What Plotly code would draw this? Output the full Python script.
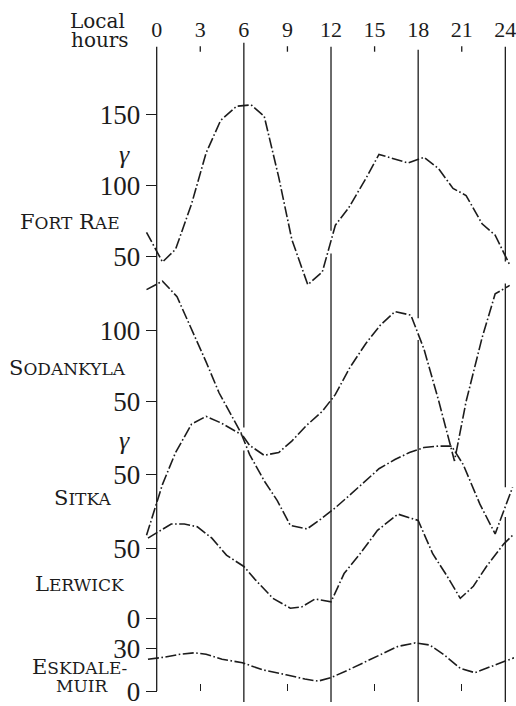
import plotly.graph_objects as go

# ---- data: hourly disturbance amplitude (gamma) against local time (hours) ----
hour_ticks = [0, 3, 6, 9, 12, 15, 18, 21, 24]
minor_hours = [3, 9, 15, 21]
guide_hours = [0, 6, 12, 18, 24]

fort_rae_hours = [-0.7, 0.4, 1.3, 2.4, 3.4, 4.4, 5.5, 6.5, 7.4, 8.4, 9.3, 10.4, 11.4,
                  12.3, 13.2, 14.4, 15.3, 16.4, 17.3, 18.4, 19.4, 20.4, 21.3, 22.4, 23.3, 24.3]
fort_rae_vals = [67, 46, 55, 87, 123, 146, 156, 157, 149, 106, 62, 30, 39,
                 72, 84, 105, 122, 119, 116, 120, 112, 98, 93, 73, 65, 44]

sodankyla_hours = [-0.7, 0.4, 1.4, 2.4, 3.4, 4.3, 5.85, 6.4, 7.4, 8.4, 9.3, 10.3, 11.4,
                   12.3, 13.3, 14.4, 15.4, 16.4, 17.5, 18.4, 19.4, 20.5, 21.3, 22.4, 23.3, 24.3]
sodankyla_vals = [129, 135, 124, 101, 78, 56, 27, 19, 12, 14, 22, 33, 43,
                  55, 74, 91, 104, 113.5, 111, 87, 51, 8, 50, 95, 126, 132]

sitka_hours = [-0.7, 0.4, 1.3, 2.4, 3.4, 4.4, 5.85, 6.4, 7.4, 8.3, 9.2, 10.35, 11.3,
               12.3, 13.3, 14.3, 15.3, 16.4, 17.4, 18.4, 19.4, 20.3, 21.1, 22.25, 23.3, 24.5]
sitka_vals = [7, 43, 65.5, 85.5, 91, 86.5, 78, 64, 45.5, 31.5, 14, 11.5, 18.5,
              26.5, 35.5, 45, 54, 60.5, 65.5, 69, 70, 70, 57, 29, 8, 41]

lerwick_hours = [-0.6, 1.0, 1.9, 2.8, 3.8, 4.8, 6.0, 6.8, 8.0, 9.2, 10.0, 10.9, 12.0,
                 12.9, 14.0, 15.2, 16.6, 18.0, 19.0, 20.0, 20.9, 21.8, 22.7, 23.9, 24.5]
lerwick_vals = [57, 67, 67, 65, 57, 45, 37, 27.5, 14.5, 7.5, 8.5, 14, 12,
                32, 46, 62.5, 74, 69.5, 46, 30, 14.5, 23, 37, 53, 59]

eskdalemuir_hours = [-0.6, 0.6, 1.6, 2.6, 3.4, 4.5, 5.9, 7.3, 8.9, 10.2, 11.1, 12.0,
                     13.1, 14.3, 15.5, 16.6, 17.8, 18.8, 19.8, 20.9, 21.9, 23.0, 23.9, 24.6]
eskdalemuir_vals = [22.5, 24, 26, 27, 26, 22.5, 20, 15, 11.5, 8.5, 7, 9.5,
                    14.5, 20.5, 26.5, 31.5, 34, 32.5, 25.5, 16, 13, 17.5, 21, 23.5]

# scale labels shown on the left axis for each station
fort_rae_ticks = [50, 100, 150]
sodankyla_ticks = [50, 100]
sitka_ticks = [50]
lerwick_ticks = [0, 50]
eskdalemuir_ticks = [0, 30]

# ---- layout geometry ----
W, H = 516, 706
X0_PX, PX_PER_HOUR = 157.3, 14.583      # hour 0 position, horizontal scale
Y0_PX, PX_PER_GAMMA = 695.0, 1.424      # lowest baseline position, vertical scale
INK = "#1c1c1c"
BIG, SMALL = 21, 17

x_range = [-X0_PX / PX_PER_HOUR, (W - X0_PX) / PX_PER_HOUR]
y_range = [-(H - Y0_PX) / PX_PER_GAMMA, Y0_PX / PX_PER_GAMMA]


def y_at(py):
    return (Y0_PX - py) / PX_PER_GAMMA


def sc(text):
    """Small caps: first letter of each word full size, the rest smaller."""
    words = []
    for w in text.split(" "):
        words.append(w[0] + f"<span style='font-size:{SMALL}px'>{w[1:]}</span>")
    return " ".join(words)


# station: (label, hours, values, ticks, baseline offset, label centre px)
stations = [
    ("FORT RAE", fort_rae_hours, fort_rae_vals, fort_rae_ticks, 257.0, (70, 223)),
    ("SODANKYLA", sodankyla_hours, sodankyla_vals, sodankyla_ticks, 154.5, (68, 370)),
    ("SITKA", sitka_hours, sitka_vals, sitka_ticks, 103.0, (83, 501)),
    ("LERWICK", lerwick_hours, lerwick_vals, lerwick_ticks, 51.0, (80, 587)),
    ("ESKDALE-", eskdalemuir_hours, eskdalemuir_vals, eskdalemuir_ticks, 0.0, (80, 671)),
]

fig = go.Figure()
tickvals, ticktext = [], []
for name, hrs, vals, ticks, off, _ in stations:
    fig.add_trace(go.Scatter(
        x=hrs, y=[v + off for v in vals], mode="lines", name=name,
        line=dict(color=INK, width=1.6, dash="11px,2.5px,1.6px,2.5px"),
        showlegend=False, hoverinfo="skip"))
    for t in ticks:
        tickvals.append(t + off)
        ticktext.append(str(t))

# carrier for the bottom tick-only hour axis
fig.add_trace(go.Scatter(x=[None], y=[None], xaxis="x2", yaxis="y",
                         showlegend=False, hoverinfo="skip"))

# vertical guide lines (interrupted where curves cross them)
guide_segments = {
    0: [(47, 695)],
    6: [(43, 430), (453, 706)],
    12: [(47, 232), (255, 706)],
    18: [(50, 320), (342, 706)],
    24: [(47, 263), (285, 490), (520, 706)],
}
shapes = []
for h in guide_hours:
    for top, bot in guide_segments[h]:
        shapes.append(dict(type="line", xref="x", yref="y", x0=h, x1=h,
                           y0=y_at(bot), y1=y_at(top),
                           line=dict(color=INK, width=1.3)))
# short marks under the intermediate hour labels
for h in minor_hours:
    shapes.append(dict(type="line", xref="x", yref="y", x0=h, x1=h,
                       y0=y_at(52), y1=y_at(46.5),
                       line=dict(color=INK, width=1.3)))


def note(text, cx, cy, family="DejaVu Serif", size=BIG):
    return dict(text=text, x=cx / W, y=1 - cy / H, xref="paper", yref="paper",
                xanchor="center", yanchor="middle", showarrow=False,
                font=dict(family=family, size=size, color=INK))


annotations = [note(sc(name), cx, cy) for name, _, _, _, _, (cx, cy) in stations]
annotations.append(note("MUIR", 82, 690, size=SMALL))
annotations.append(note("Local", 98, 21, size=20))
annotations.append(note("hours", 100, 40, size=20))
for cy in (155, 443):
    annotations.append(note("<i>γ</i>", 125, cy, family="Liberation Serif", size=26))

fig.update_layout(
    width=W, height=H, margin=dict(l=0, r=0, t=0, b=0),
    paper_bgcolor="white", plot_bgcolor="white",
    shapes=shapes, annotations=annotations,
    xaxis=dict(range=x_range, side="top", anchor="free", position=1 - 42 / H,
               tickvals=hour_ticks, ticktext=[str(h) for h in hour_ticks],
               ticks="", showline=False, showgrid=False, zeroline=False,
               ticklabeloverflow="allow",
               tickfont=dict(family="Liberation Serif", size=22, color=INK)),
    xaxis2=dict(range=x_range, overlaying="x", anchor="free", side="bottom",
                position=(H - Y0_PX) / H, tickvals=minor_hours,
                ticks="inside", ticklen=7, tickwidth=1.2, tickcolor=INK,
                showticklabels=False, showline=False, showgrid=False, zeroline=False),
    yaxis=dict(range=y_range, side="left", anchor="free", position=X0_PX / W,
               tickvals=tickvals, ticktext=ticktext,
               ticks="outside", ticklen=11, tickwidth=1.2, tickcolor=INK,
               showline=False, showgrid=False, zeroline=False,
               ticklabeloverflow="allow",
               tickfont=dict(family="Liberation Serif", size=27, color=INK)),
)

fig.write_html("out.html")
